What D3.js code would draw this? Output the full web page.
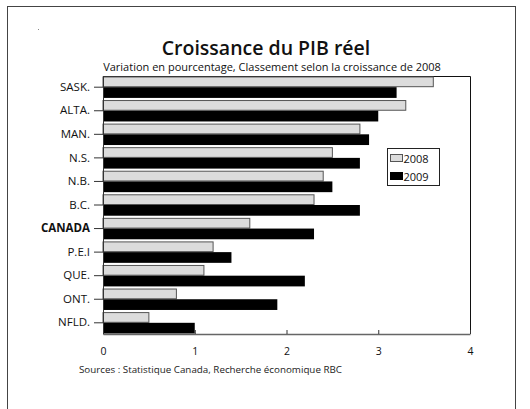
<!DOCTYPE html>
<html>
<head>
<meta charset="utf-8">
<script src="https://cdn.jsdelivr.net/npm/d3@7"></script>
<style>
  body { margin: 0; background: #fff; }
  svg { display: block; font-family: "Open Sans", sans-serif; }
</style>
</head>
<body>
<div class="chart"></div>
<script>
const provinces = ["SASK.", "ALTA.", "MAN.", "N.S.", "N.B.", "B.C.", "CANADA", "P.E.I", "QUE.", "ONT.", "NFLD."];
const growth2008 = [3.6, 3.3, 2.8, 2.5, 2.4, 2.3, 1.6, 1.2, 1.1, 0.8, 0.5];
const growth2009 = [3.2, 3.0, 2.9, 2.8, 2.5, 2.8, 2.3, 1.4, 2.2, 1.9, 1.0];
const seriesNames = ["2008", "2009"];
const xTicks = [0, 1, 2, 3, 4];

const data = provinces.map((p, i) => ({ prov: p, v2008: growth2008[i], v2009: growth2009[i] }));

const W = 530, H = 409;
const plot = { left: 103, right: 470, top: 76, bottom: 334 };

const svg = d3.select(".chart").append("svg")
  .attr("width", W)
  .attr("height", H);

// outer frame (runs off the bottom of the page)
svg.append("rect")
  .attr("x", 7.5).attr("y", 6.5)
  .attr("width", 508).attr("height", 420)
  .attr("fill", "none").attr("stroke", "#444").attr("stroke-width", 1);

svg.append("rect").attr("x", 38).attr("y", 29).attr("width", 1).attr("height", 1).attr("fill", "#888");

const xScale = d3.scaleLinear().domain([0, 4]).range([plot.left, plot.right]);
const yScale = d3.scaleBand()
  .domain(provinces)
  .range([plot.top, plot.bottom])
  .paddingInner(0.09)
  .paddingOuter(0.02);
const sub = d3.scaleBand().domain(seriesNames).range([0, yScale.bandwidth()]);

// title
svg.append("text")
  .attr("x", 266).attr("y", 55)
  .attr("text-anchor", "middle")
  .attr("font-size", 19.5).attr("font-weight", 600)
  .attr("fill", "#111")
  .text("Croissance du PIB réel");

svg.append("text")
  .attr("x", 272).attr("y", 71)
  .attr("text-anchor", "middle")
  .attr("font-size", 11)
  .attr("fill", "#111")
  .text("Variation en pourcentage, Classement selon la croissance de 2008");

// plot frame
svg.append("path")
  .attr("d", `M${plot.left},${plot.top + 0.5}H${plot.right + 0.5}V${plot.bottom}`)
  .attr("fill", "none").attr("stroke", "#111");

// bars
const groups = svg.selectAll(".grp")
  .data(data)
  .enter().append("g")
  .attr("class", "grp")
  .attr("transform", d => `translate(0, ${yScale(d.prov)})`);

groups.append("rect")
  .attr("x", xScale(0))
  .attr("y", sub("2008") + 0.5)
  .attr("width", d => xScale(d.v2008) - xScale(0))
  .attr("height", sub.bandwidth() - 1)
  .attr("fill", "#dcdcdc")
  .attr("stroke", "#555")
  .attr("stroke-width", 1);

groups.append("rect")
  .attr("x", xScale(0))
  .attr("y", sub("2009"))
  .attr("width", d => xScale(d.v2009) - xScale(0))
  .attr("height", sub.bandwidth())
  .attr("fill", "#000");

// axes
const yAxis = svg.append("g")
  .attr("transform", `translate(${plot.left}, 0)`)
  .call(d3.axisLeft(yScale).tickSize(9).tickPadding(4).tickSizeOuter(0));
yAxis.select(".domain").attr("stroke", "#333");
yAxis.selectAll(".tick line").attr("stroke", "#333");
yAxis.selectAll(".tick text")
  .attr("font-size", 11.5)
  .attr("font-family", "Open Sans, sans-serif")
  .attr("fill", "#111")
  .attr("font-weight", d => d === "CANADA" ? "bold" : "normal");

const xAxis = svg.append("g")
  .attr("transform", `translate(0, ${plot.bottom})`)
  .call(d3.axisBottom(xScale).tickValues(xTicks).tickFormat(d3.format("d")).tickSize(-4).tickPadding(14).tickSizeOuter(0));
xAxis.select(".domain").attr("stroke", "#666").attr("stroke-width", 1.5);
xAxis.selectAll(".tick line").attr("stroke", "#333");
xAxis.selectAll(".tick text")
  .attr("font-size", 10.5)
  .attr("font-family", "Open Sans, sans-serif")
  .attr("fill", "#111");

// legend
const legend = svg.append("g").attr("transform", "translate(387.5, 148.5)");
legend.append("rect")
  .attr("width", 52).attr("height", 37)
  .attr("fill", "#fff").attr("stroke", "#222");
const swatchFill = { "2008": "#dcdcdc", "2009": "#000" };
seriesNames.forEach((s, i) => {
  legend.append("rect")
    .attr("x", 3).attr("y", 6 + i * 18)
    .attr("width", 12).attr("height", 7)
    .attr("fill", swatchFill[s])
    .attr("stroke", s === "2008" ? "#555" : "#000");
  legend.append("text")
    .attr("x", 16).attr("y", 14 + i * 18)
    .attr("font-size", 11)
    .attr("fill", "#111")
    .text(s);
});

// source note
svg.append("text")
  .attr("x", 79).attr("y", 373)
  .attr("font-size", 9.8)
  .attr("fill", "#222")
  .text("Sources : Statistique Canada, Recherche économique RBC");
</script>
</body>
</html>
